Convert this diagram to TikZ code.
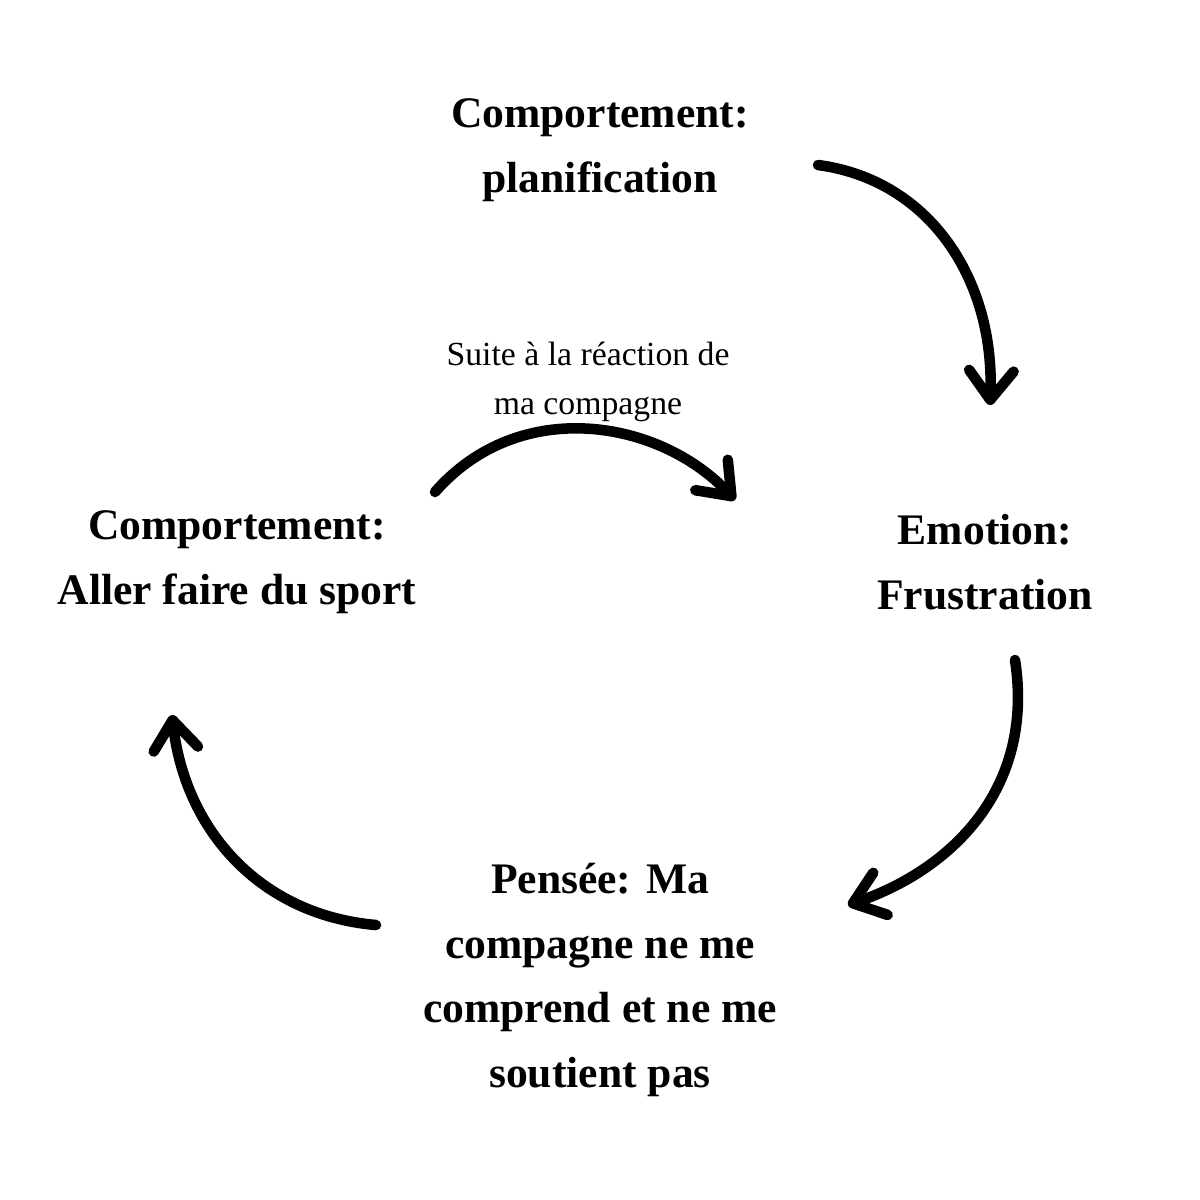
\documentclass[tikz,border=0pt]{standalone}
\usepackage{fontspec}
\setmainfont{Liberation Serif}
\usetikzlibrary{arrows.meta}
\begin{document}
\begin{tikzpicture}[x=0.025cm,y=-0.025cm,
  lbl/.style={font=\bfseries\fontsize{31}{46}\selectfont,align=center},
  small/.style={font=\fontsize{24}{35}\selectfont,align=center},
  arr/.style={line width=7.5pt,line cap=round,-{Straight Barb[angle=75:26pt,line width=7.5pt,round]}}]
\useasboundingbox (0,0) rectangle (1200,1200);
\node[lbl] (top) at (600,150) {Comportement:\\planification};
\node[lbl] (right) at (985,562) {Emotion:\\Frustration};
\node[lbl] (left) at (237,562) {Comportement:\\Aller faire du sport};
\node[lbl] (bottom) at (600,980) {Pensée: Ma\\compagne ne me\\comprend et ne me\\soutient pas};
\node[small] (note) at (588,382) {Suite à la réaction de\\ma compagne};
\coordinate (a1) at (818,165); \coordinate (b1) at (990,405);
\coordinate (a2) at (1015,660); \coordinate (b2) at (848,905);
\coordinate (a3) at (376,925); \coordinate (b3) at (172,715);
\coordinate (a4) at (435,492); \coordinate (b4) at (735,500);
\draw[arr] (a1) .. controls (930,180) and (995,280) .. (b1);
\draw[arr] (a2) .. controls (1035,790) and (950,870) .. (b2);
\draw[arr] (a3) .. controls (260,915) and (185,830) .. (b3);
\draw[arr] (a4) .. controls (520,395) and (660,420) .. (b4);
\end{tikzpicture}
\end{document}
